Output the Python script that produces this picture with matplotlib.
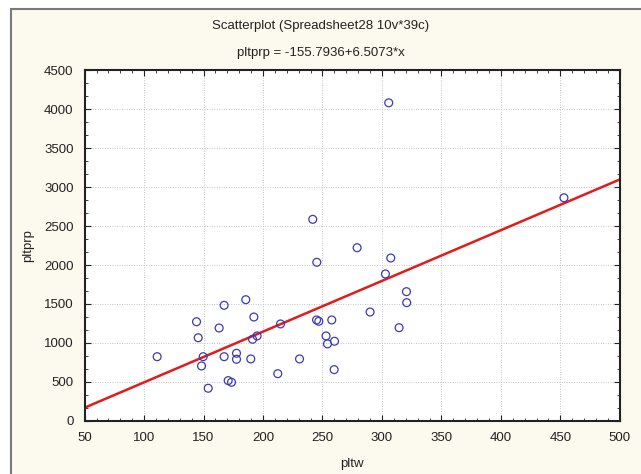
import numpy as np
import matplotlib.pyplot as plt
from matplotlib.patches import Rectangle
from matplotlib.ticker import MultipleLocator, AutoMinorLocator

plt.rcParams['font.family'] = ['Liberation Sans', 'DejaVu Sans']

# data (39 cases)
pltw = [111.0, 144.1, 145.5, 149.7, 148.3, 153.9, 163.1, 167.3, 167.3, 170.7,
        173.5, 177.7, 177.7, 185.5, 192.3, 189.7, 191.2, 195.0, 241.8, 279.1,
        245.2, 307.4, 302.9, 290.0, 214.7, 245.0, 246.9, 257.8, 253.0, 254.2,
        260.1, 259.8, 230.7, 212.4, 314.4, 305.7, 453.0, 320.6, 320.8]
pltprp = [824, 1272, 1067, 824, 705, 419, 1192, 1483, 824, 517,
          496, 868, 791, 1555, 1333, 795, 1047, 1090, 2586, 2222,
          2035, 2090, 1885, 1397, 1244, 1295, 1278, 1295, 1090, 988,
          1022, 658, 795, 606, 1196, 4081, 2863, 1658, 1517]

intercept = -155.7936
slope = 6.5073

fig = plt.figure(figsize=(6.41, 4.74), dpi=100, facecolor='white')
# cream panel with grey border (left/top edges visible)
fig.patches.append(Rectangle((11 / 641, -0.01), 1.0, 1 - 9 / 474 + 0.01,
                             transform=fig.transFigure, facecolor='#fcf9ee',
                             edgecolor='#7a7a7a', linewidth=1.5, zorder=-10))

ax = fig.add_axes([0.132, 0.112, 0.835, 0.740])
ax.set_facecolor('white')

xs = np.linspace(50, 500, 200)
ax.plot(xs, intercept + slope * xs, color='#e21b1b', linewidth=1.8, zorder=2)
ax.scatter(pltw, pltprp, s=32, facecolors='none', edgecolors='#3b3bb8',
           linewidths=0.9, zorder=3)

ax.set_xlim(50, 500)
ax.set_ylim(0, 4500)
ax.xaxis.set_major_locator(MultipleLocator(50))
ax.xaxis.set_minor_locator(AutoMinorLocator(5))
ax.yaxis.set_major_locator(MultipleLocator(500))
ax.yaxis.set_minor_locator(AutoMinorLocator(3))
ax.tick_params(which='both', direction='in', top=True, right=True,
               labelsize=9.5, colors='#222222')
ax.tick_params(axis='x', pad=8)
ax.tick_params(axis='y', pad=8)
ax.tick_params(which='major', length=4)
ax.tick_params(which='minor', length=2.5)
ax.grid(True, which='major', linestyle=(0, (1, 1.5)), color='#c4c4c4',
        linewidth=0.7)
for sp in ax.spines.values():
    sp.set_linewidth(1.5)
    sp.set_color('#222222')

ax.set_xlabel('pltw', fontsize=9.5, labelpad=10, color='#222222')
ax.set_ylabel('pltprp', fontsize=9.5, labelpad=7, color='#222222')
fig.text(0.5, 0.945, 'Scatterplot (Spreadsheet28 10v*39c)', ha='center',
         va='center', fontsize=9.5, color='#222222')
fig.text(0.5, 0.888, 'pltprp = -155.7936+6.5073*x', ha='center',
         va='center', fontsize=9.5, color='#222222')

fig.savefig('out.png', dpi=100, facecolor=fig.get_facecolor())
